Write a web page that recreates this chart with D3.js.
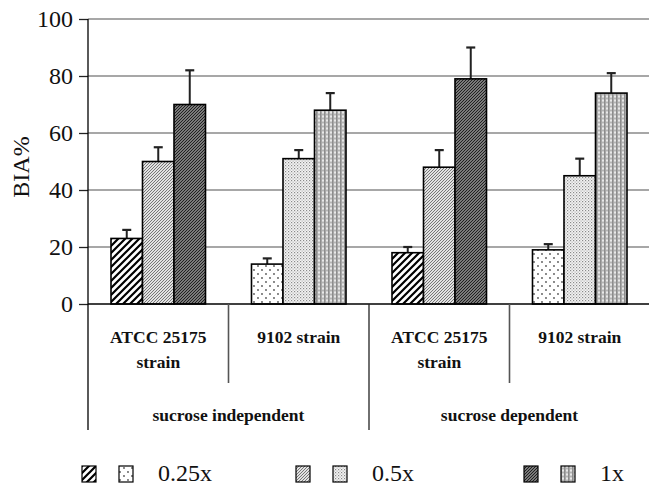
<!DOCTYPE html>
<html>
<head>
<meta charset="utf-8">
<script src="https://cdn.jsdelivr.net/npm/d3@7/dist/d3.min.js"></script>
<style>
  html, body { margin: 0; padding: 0; background: #fff; }
  svg { display: block; }
  text { font-family: "Liberation Serif", "Times New Roman", "DejaVu Serif", serif; fill: #111; }
</style>
</head>
<body>
<svg id="chart" width="649" height="485"></svg>
<script>
// ---- data ----
const outerGroups = ["sucrose independent", "sucrose dependent"];
const strains = ["ATCC 25175|strain", "9102 strain"];
const categories = ["si-ATCC", "si-9102", "sd-ATCC", "sd-9102"];
const doses = ["0.25x", "0.5x", "1x"];
const values025 = [23, 14, 18, 19];
const values05 = [50, 51, 48, 45];
const values1 = [70, 68, 79, 74];
const err025 = [3, 2, 2, 2];
const err05 = [5, 3, 6, 6];
const err1 = [12, 6, 11, 7];
const yTicks = [0, 20, 40, 60, 80, 100];

const valuesByDose = [values025, values05, values1];
const errByDose = [err025, err05, err1];
const SERIF = "'Liberation Serif', 'Times New Roman', 'DejaVu Serif', serif";

const svg = d3.select("#chart");
const defs = svg.append("defs");

// ---- patterns ----
function pat(id, w, h, bg, draw) {
  const p = defs.append("pattern").attr("id", id)
    .attr("patternUnits", "userSpaceOnUse").attr("width", w).attr("height", h);
  p.append("rect").attr("width", w).attr("height", h).attr("fill", bg);
  draw(p);
}
// ATCC strain patterns (diagonal)
pat("a0", 7, 7, "#fff", p => p.append("path")
  .attr("d", "M-1.75,1.75 L1.75,-1.75 M0,7 L7,0 M5.25,8.75 L8.75,5.25")
  .attr("stroke", "#000").attr("stroke-width", 2.2));
pat("a1", 3, 3, "#e2e2e2", p => p.append("path")
  .attr("d", "M-0.75,0.75 L0.75,-0.75 M0,3 L3,0 M2.25,3.75 L3.75,2.25")
  .attr("stroke", "#6a6a6a").attr("stroke-width", 0.9));
pat("a2", 3, 3, "#a0a0a0", p => p.append("path")
  .attr("d", "M-0.75,0.75 L0.75,-0.75 M0,3 L3,0 M2.25,3.75 L3.75,2.25")
  .attr("stroke", "#1a1a1a").attr("stroke-width", 1.1));
// 9102 strain patterns (dots / stipple)
pat("b0", 8, 8, "#fff", p => {
  p.append("circle").attr("cx", 2).attr("cy", 2).attr("r", 0.9).attr("fill", "#555");
  p.append("circle").attr("cx", 6).attr("cy", 6).attr("r", 0.9).attr("fill", "#555");
});
pat("b1", 3, 3, "#f4f4f4", p => {
  p.append("rect").attr("x", 0).attr("y", 0).attr("width", 1.2).attr("height", 1.2).attr("fill", "#8a8a8a");
  p.append("rect").attr("x", 1.5).attr("y", 1.5).attr("width", 1.2).attr("height", 1.2).attr("fill", "#b0b0b0");
});
pat("b2", 4, 4, "#d0d0d0", p => {
  p.append("rect").attr("x", 0).attr("y", 0).attr("width", 1.6).attr("height", 4).attr("fill", "#8c8c8c");
  p.append("rect").attr("x", 2).attr("y", 0).attr("width", 2).attr("height", 1).attr("fill", "#e8e8e8");
  p.append("rect").attr("x", 2).attr("y", 2).attr("width", 2).attr("height", 1).attr("fill", "#b4b4b4");
});
const patternFor = (catIndex, doseIndex) => (catIndex % 2 === 0 ? "a" : "b") + doseIndex;

// ---- scales ----
const x0 = d3.scaleBand().domain(categories).range([88, 650]).paddingInner(0).paddingOuter(0);
const x1 = d3.scaleBand().domain(doses).range([0, x0.bandwidth()]).paddingInner(0).paddingOuter(0.73);
const y = d3.scaleLinear().domain([0, 100]).range([304, 19]);

// ---- gridlines ----
svg.append("g").selectAll("line").data(yTicks.filter(t => t > 0)).join("line")
  .attr("x1", 88).attr("x2", 650)
  .attr("y1", d => y(d)).attr("y2", d => y(d))
  .attr("stroke", "#8a8a8a").attr("stroke-width", 1.6);

// ---- y axis ----
const yAxis = svg.append("g").attr("transform", "translate(88,0)")
  .call(d3.axisLeft(y).tickValues(yTicks).tickSize(9).tickPadding(6).tickFormat(d3.format("d")));
yAxis.select(".domain").remove();
yAxis.selectAll(".tick line").attr("stroke", "#222").attr("stroke-width", 1.3);
yAxis.selectAll(".tick text")
  .attr("font-family", SERIF)
  .attr("font-size", 24).attr("fill", "#111").attr("dy", "0.33em");

svg.append("text").attr("transform", "translate(29,167) rotate(-90)")
  .attr("font-family", SERIF)
  .attr("text-anchor", "middle").attr("font-size", 24).text("BIA%");

// ---- bars ----
const barData = [];
categories.forEach((c, ci) => doses.forEach((d, di) => barData.push({
  c, ci, d, di, v: valuesByDose[di][ci], e: errByDose[di][ci]
})));

const bars = svg.append("g");
bars.selectAll("line.err").data(barData).join("line").attr("class", "err")
  .attr("x1", d => x0(d.c) + x1(d.d) + x1.bandwidth() / 2)
  .attr("x2", d => x0(d.c) + x1(d.d) + x1.bandwidth() / 2)
  .attr("y1", d => y(d.v)).attr("y2", d => y(d.v + d.e))
  .attr("stroke", "#222").attr("stroke-width", 2);
bars.selectAll("line.cap").data(barData).join("line").attr("class", "cap")
  .attr("x1", d => x0(d.c) + x1(d.d) + x1.bandwidth() / 2 - 4.5)
  .attr("x2", d => x0(d.c) + x1(d.d) + x1.bandwidth() / 2 + 4.5)
  .attr("y1", d => y(d.v + d.e)).attr("y2", d => y(d.v + d.e))
  .attr("stroke", "#222").attr("stroke-width", 2.2);
bars.selectAll("rect").data(barData).join("rect")
  .attr("x", d => x0(d.c) + x1(d.d))
  .attr("width", x1.bandwidth())
  .attr("y", d => y(d.v))
  .attr("height", d => y(0) - y(d.v))
  .attr("fill", d => `url(#${patternFor(d.ci, d.di)})`)
  .attr("stroke", "#000").attr("stroke-width", 1.6);

// ---- baseline and axis ----
svg.append("line").attr("x1", 88).attr("x2", 650).attr("y1", y(0)).attr("y2", y(0))
  .attr("stroke", "#000").attr("stroke-width", 1.6);
svg.append("line").attr("x1", 88).attr("x2", 88).attr("y1", y(100)).attr("y2", 430)
  .attr("stroke", "#000").attr("stroke-width", 1.3);

// ---- category dividers ----
const outerScale = d3.scaleBand().domain(outerGroups).range([88, 650]);
svg.append("g").selectAll("line").data(outerGroups).join("line")
  .attr("x1", g => outerScale(g) + outerScale.bandwidth() / 2)
  .attr("x2", g => outerScale(g) + outerScale.bandwidth() / 2)
  .attr("y1", y(0)).attr("y2", 383)
  .attr("stroke", "#555").attr("stroke-width", 1.6);
svg.append("g").selectAll("line").data(outerGroups).join("line")
  .attr("x1", g => outerScale(g) + outerScale.bandwidth())
  .attr("x2", g => outerScale(g) + outerScale.bandwidth())
  .attr("y1", y(0)).attr("y2", 430)
  .attr("stroke", "#222").attr("stroke-width", 1.3);

// ---- category labels ----
categories.forEach((c, ci) => {
  const lines = strains[ci % 2].split("|");
  const t = svg.append("text").attr("text-anchor", "middle")
    .attr("font-family", SERIF)
    .attr("font-size", 17.5).attr("font-weight", "bold");
  lines.forEach((ln, li) => t.append("tspan")
    .attr("x", x0(c) + x0.bandwidth() / 2).attr("y", 343 + li * 25).text(ln));
});
svg.append("g").selectAll("text").data(outerGroups).join("text")
  .attr("x", g => outerScale(g) + outerScale.bandwidth() / 2)
  .attr("y", 421).attr("text-anchor", "middle")
  .attr("font-family", SERIF)
  .attr("font-size", 17.5).attr("font-weight", "bold").text(g => g);

// ---- legend ----
const legendX = d3.scaleOrdinal().domain(doses).range([82, 296, 524]);
const leg = svg.append("g").selectAll("g").data(doses).join("g")
  .attr("transform", d => `translate(${legendX(d)},466)`);
leg.append("rect").attr("x", 0).attr("width", 14).attr("height", 16)
  .attr("fill", (d, i) => `url(#a${i})`).attr("stroke", "#000").attr("stroke-width", 1.2);
leg.append("rect").attr("x", 37).attr("width", 14).attr("height", 16)
  .attr("fill", (d, i) => `url(#b${i})`).attr("stroke", "#000").attr("stroke-width", 1.2);
leg.append("text").attr("x", 76).attr("y", 15).attr("font-family", SERIF)
  .attr("font-size", 24).text(d => d);
</script>
</body>
</html>
